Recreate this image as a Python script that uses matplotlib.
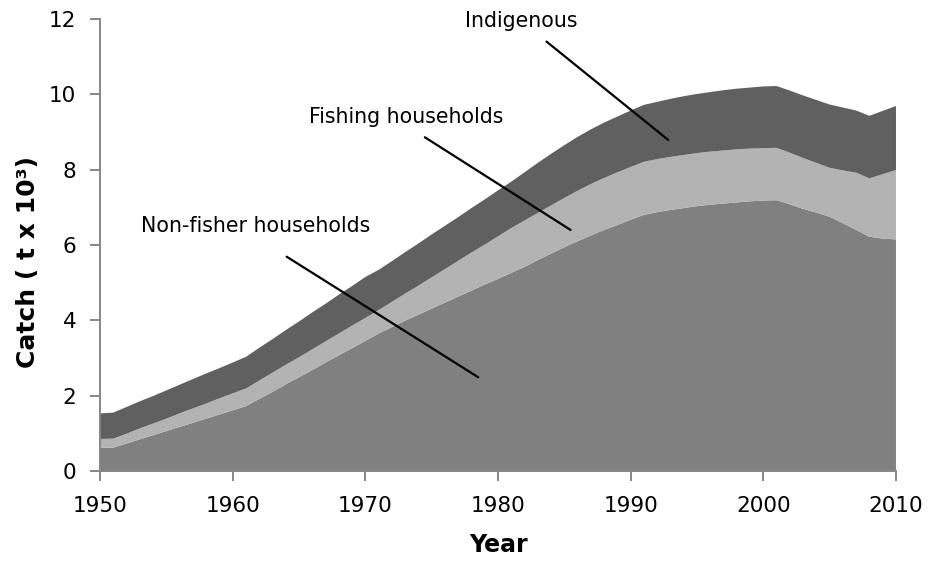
import numpy as np
import matplotlib
matplotlib.use("Agg")
import matplotlib.pyplot as plt

# ------------------------------------------------------
# catch by sector, t x 10^3

years = np.arange(1950, 2011)

non_fisher = [0.62, 0.62, 0.73, 0.84, 0.95, 1.06, 1.17, 1.28, 1.39, 1.50, 1.61, 1.72,
              1.91, 2.10, 2.30, 2.49, 2.68, 2.88, 3.07, 3.26, 3.45, 3.65,
              3.82, 3.99, 4.15, 4.31, 4.47, 4.63, 4.79, 4.95, 5.10, 5.26,
              5.42, 5.60, 5.77, 5.94, 6.10, 6.25, 6.40, 6.53, 6.67, 6.80,
              6.87, 6.93, 6.98, 7.03, 7.07, 7.10, 7.13, 7.16, 7.18, 7.19,
              7.08, 6.96, 6.86, 6.75, 6.58, 6.40, 6.22, 6.17, 6.15]

fishing = [0.23, 0.24, 0.26, 0.29, 0.31, 0.33, 0.36, 0.38, 0.40, 0.43, 0.45, 0.47,
           0.49, 0.51, 0.52, 0.53, 0.55, 0.56, 0.58, 0.60, 0.61, 0.62,
           0.67, 0.72, 0.77, 0.83, 0.89, 0.95, 1.01, 1.06, 1.13, 1.19,
           1.23, 1.25, 1.28, 1.31, 1.34, 1.37, 1.38, 1.40, 1.40, 1.41,
           1.41, 1.41, 1.41, 1.41, 1.41, 1.41, 1.41, 1.40, 1.39, 1.39,
           1.37, 1.35, 1.32, 1.30, 1.40, 1.52, 1.55, 1.71, 1.84]

indigenous = [0.68, 0.69, 0.71, 0.72, 0.73, 0.75, 0.76, 0.78, 0.80, 0.80, 0.82, 0.84,
              0.87, 0.89, 0.92, 0.95, 0.98, 1.00, 1.03, 1.05, 1.09, 1.07,
              1.08, 1.10, 1.12, 1.14, 1.15, 1.16, 1.18, 1.20, 1.22, 1.23,
              1.28, 1.33, 1.37, 1.40, 1.43, 1.45, 1.47, 1.48, 1.50, 1.51,
              1.52, 1.54, 1.56, 1.57, 1.58, 1.60, 1.61, 1.62, 1.64, 1.64,
              1.65, 1.66, 1.67, 1.68, 1.67, 1.65, 1.66, 1.68, 1.70]

x_ticks = [1950, 1960, 1970, 1980, 1990, 2000, 2010]
y_ticks = [0, 2, 4, 6, 8, 10, 12]

labels = ["Non-fisher households", "Fishing households", "Indigenous"]
# ------------------------------------------------------

plt.rcParams['font.family'] = ['DejaVu Sans']

fig = plt.figure(figsize=(9.3, 5.67), dpi=100)
ax = fig.add_axes([0.1075, 0.1693, 0.8559, 0.7972])

ax.stackplot(years, non_fisher, fishing, indigenous,
             colors=['#808080', '#b3b3b3', '#606060'], linewidth=0)

ax.set_xlim(1950, 2010)
ax.set_ylim(0, 12)
ax.set_xticks(x_ticks)
ax.set_yticks(y_ticks)

for s in ['top', 'right']:
    ax.spines[s].set_visible(False)
for s in ['left', 'bottom']:
    ax.spines[s].set_color('#868686')
    ax.spines[s].set_linewidth(1.4)

ax.tick_params(axis='both', direction='out', color='#868686', width=1.4,
               length=7, labelsize=15.5, labelcolor='black')
ax.tick_params(axis='x', pad=11)
ax.tick_params(axis='y', pad=10)

# text labels with leader lines (text pos, line start, line end)
text_pos = [(1961.76, 6.50), (1973.06, 9.40), (1981.73, 11.95)]
line_from = [(1964.07, 5.69), (1974.49, 8.86), (1983.66, 11.40)]
line_to = [(1978.51, 2.49), (1985.47, 6.40), (1992.83, 8.79)]

for lab, tp, p0, p1 in zip(labels, text_pos, line_from, line_to):
    ax.text(tp[0], tp[1], lab, fontsize=14.8, ha='center', va='center', clip_on=False)
    ax.annotate('', xy=p1, xytext=p0,
                arrowprops=dict(arrowstyle='-', color='black', lw=1.6,
                                shrinkA=0, shrinkB=0))

fig.text(498 / 930, 1 - 545 / 567, 'Year', fontsize=17, fontweight='bold',
         ha='center', va='center')
fig.text(28 / 930, 1 - 262 / 567, 'Catch ( t x 10³)', fontsize=18, fontweight='bold',
         ha='center', va='center', rotation=90)

fig.savefig('out.png', dpi=100)
